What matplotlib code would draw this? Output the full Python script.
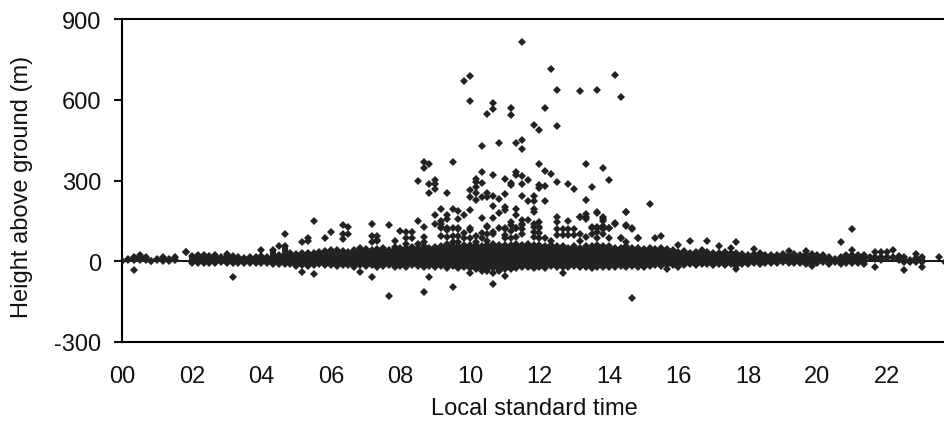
# -*- coding: utf-8 -*-
"""
height above ground against local time, logged on a 10 minute grid
"""
import matplotlib
matplotlib.use('Agg')
import matplotlib.pyplot as plt
import numpy as np

nan = float('nan')

hour_labels = ['00','02','04','06','08','10','12','14','16','18','20','22']
hour_ticks = [0,2,4,6,8,10,12,14,16,18,20,22]
height_ticks = [-300,0,300,600,900]

# dense band: top and bottom marker per 10 minute slot
band_top = [0,8,17,23,14,0,7,15,10,14,nan,33,
            18,22,24,18,24,15,26,18,14,12,14,16,
            18,16,43,25,56,30,28,30,30,32,35,38,
            40,42,38,36,42,48,45,40,46,50,42,52,
            48,50,52,48,55,50,52,55,60,55,58,60,
            60,62,58,62,65,60,62,60,65,60,65,60,
            62,58,60,55,55,50,55,50,58,55,60,55,
            58,50,50,55,50,50,45,50,45,48,45,42,
            35,38,32,35,32,35,32,30,35,30,
            30,28,25,28,30,25,22,25,28,24,26,22,
            26,28,22,22,14,8,14,24,22,24,22,14,
            16,14,16,16,18,14,5,12,16]
band_low = [0,5,5,5,5,0,3,2,0,4,nan,33,
            -5,-8,-6,-5,-7,-4,-6,-5,-6,-5,-7,-6,
            -8,-8,-10,-12,-10,-10,-18,-15,-18,-15,-12,-15,
            -14,-18,-15,-14,-20,-15,-18,-15,-20,-18,-15,-20,
            -18,-20,-15,-18,-22,-18,-20,-18,-25,-18,-25,-22,
            -25,-30,-25,-28,-25,-30,-28,-30,-25,-22,-20,-25,
            -22,-25,-18,-20,-22,-20,-18,-20,-22,-25,-20,-22,
            -22,-20,-18,-22,-18,-22,-20,-18,-15,-18,-14,-15,
            -22,-14,-12,-15,-12,-12,-15,-10,-14,-10,
            -18,-12,-10,-8,-10,-6,-6,-6,-4,-6,-8,-6,
            -10,-8,-6,-4,-2,-2,-8,-8,-5,-8,-10,12,
            10,5,12,12,5,-2,-2,-3,-2]

# points that stand clear of the band
peak_slot = [69,74,60,59,85,75,79,82,86,60,64,64,63,67,67,73,71,72,75,62,65,68,69,69,
             52,53,52,57,72,80,83,
             62,64,68,68,69,70,66,67,67,61,61,62,69,73,74,72,72,73,75,77,78,81,84,
             51,53,54,54,54,53,56,60,60,61,61,61,62,63,63,64,65,66,64,66,65,64,66,
             68,68,69,71,70,71,71,71,73,80,91,
             55,57,58,60,59,54,56,56,58,62,51,52,55,54,55,58,55,56,60,63,67,69,70,69,
             71,72,72,66,65,79,80,80,82,83,83,85,87,87,88,
             81,82,83,84,86,89,
             36,38,39,38,39,38,43,46,43,44,48,49,50,49,50,44,
             24,27,28,31,32,32,33,35,
             93,92,98,101,96,103,105,106,100,109,115,118,124,126,126,130,131,132,133,137,141,142,
             41,43,53,46,52,57,64,66,60,62,63,64,65,76,88,
             2,19,31,33,106,94,130,135,138,119,122,124]
peak_height = [813,716,689,671,693,638,632,638,612,595,587,565,548,571,543,571,508,486,504,427,439,441,451,416,
               367,360,345,368,360,361,345,
               333,321,333,321,316,301,307,291,284,306,293,291,286,334,325,284,272,281,294,286,269,277,301,
               297,286,301,286,269,254,254,266,238,275,253,226,238,253,238,244,232,248,207,201,181,161,189,
               195,171,241,244,222,222,193,183,222,226,213,
               193,193,187,189,171,171,171,158,156,161,149,128,149,139,128,120,139,124,124,130,147,155,155,138,
               137,146,124,125,125,165,174,158,183,165,148,142,183,134,124,
               128,128,120,124,85,87,
               107,134,129,102,102,82,140,134,95,92,113,107,107,85,85,78,
               43,56,103,73,87,77,150,85,
               95,85,76,76,60,55,48,72,42,45,39,39,70,119,43,36,36,36,42,27,14,-4,
               -41,-60,-58,-128,-114,-96,-86,-53,-45,-38,-35,-42,-35,-45,-136,
               -34,-58,-40,-47,-28,-28,-20,-34,-20,-18,-12,-12]

# lower layer just above the band, morning then midday
layer_slot = [44,43,47,49,52,52,51,
              55,56,55,56,57,58,58,57,59,60,61,62,63,63,61,59,58,62,63,60,56,57,
              64,66,67,68,69,69,71,72,71,72,66,64,67,68,68,69,71,72,66,67,73,74,
              75,75,75,76,77,77,78,75,76,77,78,79,80,81,82,82,83,83,84,85,81,82,83,79,80,79,
              87,87,88,86,89,84,82,87]
layer_height = [77,70,77,65,89,70,65,
                122,115,95,89,122,125,95,95,106,115,95,106,126,102,70,85,70,85,77,85,65,70,
                109,120,133,123,136,120,126,126,109,105,96,102,111,123,91,102,89,85,85,85,85,77,
                166,145,120,120,150,120,120,96,96,96,96,165,165,125,125,178,157,132,123,139,102,109,102,102,89,77,
                182,132,120,85,87,85,85,70]

plt.rcParams['font.family'] = ['Liberation Sans', 'DejaVu Sans']
plt.rcParams['axes.unicode_minus'] = False

fig = plt.figure(figsize=(9.45,4.27), dpi=100)
ax = fig.add_axes([122.5/945, 1-343.0/427, (945-122.5)/945, 323.0/427])

mark = '#222222'
band_hour = np.arange(len(band_top))/6.0
peak_hour = np.array(peak_slot)/6.0
layer_hour = np.array(layer_slot)/6.0

ax.axhline(0, color='black', lw=1.3, zorder=1)
ax.vlines(band_hour, band_low, band_top, color=mark, lw=4.4, zorder=2)
for values in (band_top, band_low):
    ax.plot(band_hour, values, 'D', color=mark, ms=4.2, mew=0, zorder=3)
ax.plot(peak_hour, peak_height, 'D', color=mark, ms=4.2, mew=0, zorder=3, clip_on=False)
ax.plot(layer_hour, layer_height, 'D', color=mark, ms=4.2, mew=0, zorder=3)

ax.set_xlim(0, 23.67)
ax.set_ylim(-300, 900)
ax.set_xticks(hour_ticks)
ax.set_xticklabels(hour_labels)
ax.set_yticks(height_ticks)
ax.spines['right'].set_visible(False)
for side in ('top','bottom','left'):
    ax.spines[side].set_linewidth(1.5)
ax.tick_params(axis='x', length=0, pad=16.5, labelsize=17, colors='#111111')
ax.tick_params(axis='y', length=5.8, width=1.5, pad=9.4, labelsize=17, colors='#111111')

fig.text(534/945, 1-409/427, 'Local standard time', ha='center', va='center', fontsize=17, color='#111111')
fig.text(22/945, 1-187/427, 'Height above ground (m)', ha='center', va='center', rotation=90, fontsize=17, color='#111111')

fig.savefig('out.png', dpi=100)
